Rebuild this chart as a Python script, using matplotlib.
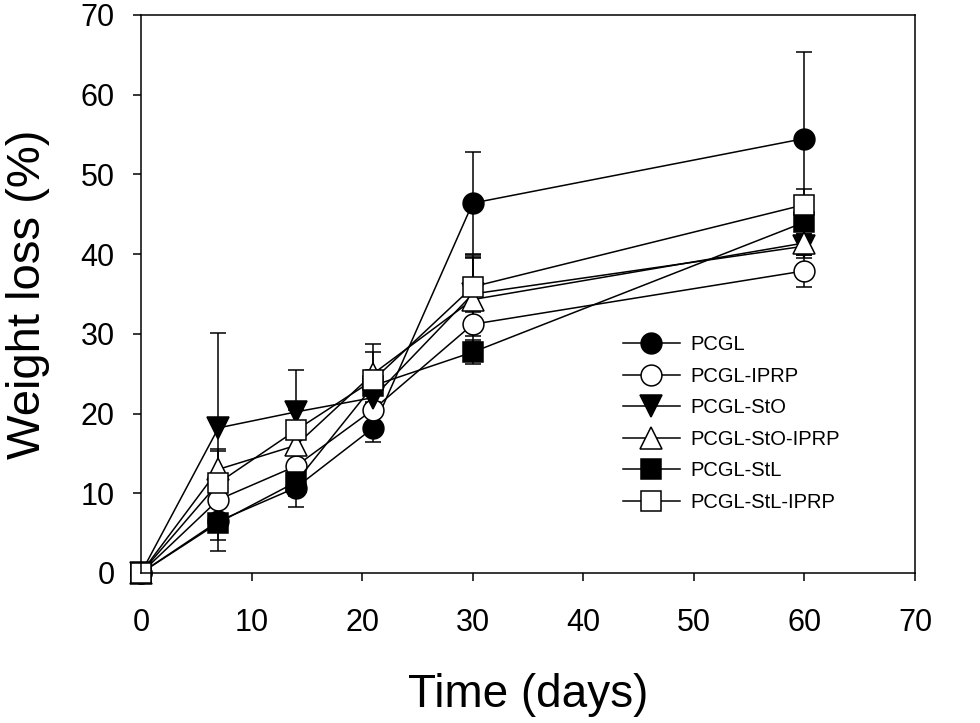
import numpy as np
import matplotlib
matplotlib.use("Agg")
import matplotlib.pyplot as plt
from matplotlib.lines import Line2D

plt.rcParams['font.family'] = ['Liberation Sans', 'DejaVu Sans']

# ── Data ─────────────────────────────────────────────────────────────────────
days = [0, 7, 14, 21, 30, 60]

series_names = ['PCGL', 'PCGL-IPRP', 'PCGL-StO', 'PCGL-StO-IPRP',
                'PCGL-StL', 'PCGL-StL-IPRP']

pcgl          = [0, 6.5, 10.7, 18.2, 46.4, 54.5]
pcgl_iprp     = [0, 9.2, 13.4, 20.5, 31.2, 37.9]
pcgl_sto      = [0, 18.2, 20.2, 22.0, 35.0, 41.0]
pcgl_sto_iprp = [0, 13.0, 16.0, 25.0, 34.3, 41.4]
pcgl_stl      = [0, 6.3, 11.4, 23.5, 27.7, 44.0]
pcgl_stl_iprp = [0, 11.3, 17.9, 24.2, 35.9, 46.2]

pcgl_err          = [0, 3.8, 2.4, 1.8, 6.4, 10.9]
pcgl_iprp_err     = [0, 2.0, 1.5, 2.0, 1.5, 2.0]
pcgl_sto_err      = [0, 11.9, 5.3, 2.0, 4.5, 1.5]
pcgl_sto_iprp_err = [0, 2.5, 2.0, 3.7, 5.3, 1.5]
pcgl_stl_err      = [0, 2.2, 1.8, 2.0, 1.5, 1.5]
pcgl_stl_iprp_err = [0, 4.0, 2.5, 3.5, 4.0, 2.0]

x_ticks = [0, 10, 20, 30, 40, 50, 60, 70]
y_ticks = [0, 10, 20, 30, 40, 50, 60, 70]

values = [pcgl, pcgl_iprp, pcgl_sto, pcgl_sto_iprp, pcgl_stl, pcgl_stl_iprp]
errors = [pcgl_err, pcgl_iprp_err, pcgl_sto_err, pcgl_sto_iprp_err,
          pcgl_stl_err, pcgl_stl_iprp_err]
markers = ['o', 'o', 'v', '^', 's', 's']
faces = ['black', 'white', 'black', 'white', 'black', 'white']

# ── Figure ───────────────────────────────────────────────────────────────────
fig = plt.figure(figsize=(9.8, 7.23), dpi=100)
ax = fig.add_axes([0.1439, 0.2075, 0.7898, 0.7718])

handles = []
for name, vals, err, mk, fc in zip(series_names, values, errors, markers, faces):
    ms = 15 if mk in ('o', 's') else 16
    ax.errorbar(days, vals, yerr=err, color='black', linewidth=1.1,
                elinewidth=1.1, capsize=6, capthick=1.1,
                marker=mk, markersize=ms, markerfacecolor=fc,
                markeredgecolor='black', markeredgewidth=1.1,
                clip_on=False)
    # legend entries show line + marker only (no error bar)
    handles.append(Line2D([], [], color='black', linewidth=1.1, marker=mk,
                          markersize=ms, markerfacecolor=fc,
                          markeredgecolor='black', markeredgewidth=1.1,
                          label=name))

ax.set_xlim(0, 70)
ax.set_ylim(0, 70)
ax.set_xticks(x_ticks)
ax.set_yticks(y_ticks)

for sp in ax.spines.values():
    sp.set_linewidth(1.1)

ax.tick_params(axis='both', direction='out', length=6, width=1.1,
               labelsize=22, top=False, right=False)
ax.tick_params(axis='x', pad=19)
ax.tick_params(axis='y', pad=13)

ax.set_xlabel('Time (days)', fontsize=33)
ax.set_ylabel('Weight loss (%)', fontsize=34)
ax.xaxis.set_label_coords(0.5, -0.18)
ax.yaxis.set_label_coords(-0.118, 0.5)

ax.legend(handles=handles, loc='upper left', bbox_to_anchor=(0.623, 0.426),
          frameon=False, fontsize=14.5, handlelength=2.8, handletextpad=0.55,
          labelspacing=0.62, borderpad=0, borderaxespad=0)

fig.savefig('out.png', dpi=100)
